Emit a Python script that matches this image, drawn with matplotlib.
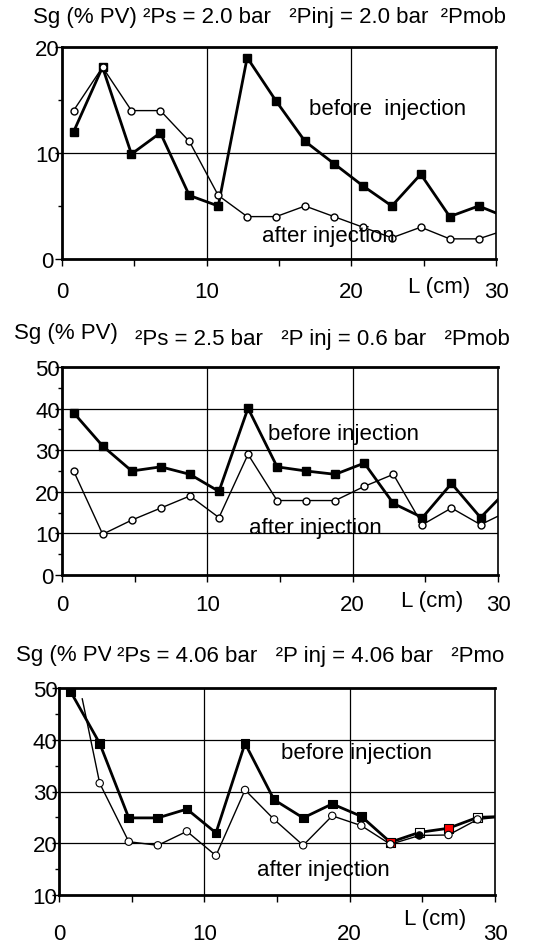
import numpy as np
import matplotlib.pyplot as plt
from matplotlib.ticker import MultipleLocator

plt.rcParams['font.family'] = ['Liberation Sans', 'DejaVu Sans']

# ============================================================
# DATA
# ============================================================
L = [0.8, 2.8, 4.8, 6.8, 8.8, 10.8, 12.8, 14.8, 16.8, 18.8, 20.8, 22.8, 24.8, 26.8, 28.8, 30.8]

# Panel 1: dPs = 2.0 bar, dPinj = 2.0 bar
sg1_before = [12.0, 18.1, 9.9, 11.9, 6.0, 5.0, 19.0, 14.9, 11.1, 9.0, 6.9, 5.0, 8.0, 4.0, 5.0, 3.9]
sg1_after = [14.0, 18.1, 14.0, 14.0, 11.1, 6.0, 4.0, 4.0, 5.0, 4.0, 3.0, 2.0, 3.0, 1.9, 1.9, 2.8]

# Panel 2: dPs = 2.5 bar, dPinj = 0.6 bar
sg2_before = [39.0, 31.0, 25.0, 26.0, 24.2, 20.1, 40.1, 26.0, 25.0, 24.2, 26.9, 17.2, 13.8, 22.0, 13.8, 21.0]
sg2_after = [25.0, 9.8, 13.2, 16.1, 19.0, 13.8, 29.0, 17.9, 17.9, 17.9, 21.3, 24.2, 12.1, 16.1, 12.1, 15.5]

# Panel 3: dPs = 4.06 bar, dPinj = 4.06 bar
sg3_before = [49.3, 39.3, 24.9, 24.9, 26.6, 22.0, 39.3, 28.4, 24.9, 27.6, 25.2, 20.2, 22.1, 22.9, 25.0, 25.2]
L3_after = [1.6, 2.8, 4.8, 6.8, 8.8, 10.8, 12.8, 14.8, 16.8, 18.8, 20.8, 22.8, 24.8, 26.8, 28.8, 30.8]
sg3_after = [47.9, 31.6, 20.3, 19.6, 22.3, 17.6, 30.3, 24.6, 19.6, 25.3, 23.4, 19.8, 21.5, 21.6, 24.6, 25.2]

titles = [
    ('Sg (% PV) \u00b2Ps = 2.0 bar   \u00b2Pinj = 2.0 bar  \u00b2Pmob', None),
    ('Sg (% PV)', '\u00b2Ps = 2.5 bar   \u00b2P inj = 0.6 bar   \u00b2Pmob'),
    ('Sg (% PV)', '\u00b2Ps = 4.06 bar   \u00b2P inj = 4.06 bar   \u00b2Pmo'),
]

FS = 16
W, H = 547, 945
fig = plt.figure(figsize=(W / 100, H / 100), dpi=100)


def fx(px):
    return px / W


def fy(py):
    return 1 - py / H


def make_axes(left, top, right, bottom):
    return fig.add_axes([fx(left), fy(bottom), fx(right - left), (bottom - top) / H])


def style_axes(ax, ylim, ymajor, yminor, hgrid, xlab_pad, ylab_pad):
    ax.set_xlim(0, 30)
    ax.set_ylim(*ylim)
    ax.xaxis.set_major_locator(MultipleLocator(10))
    ax.xaxis.set_minor_locator(MultipleLocator(5))
    ax.yaxis.set_major_locator(MultipleLocator(ymajor))
    ax.yaxis.set_minor_locator(MultipleLocator(yminor))
    for x in [10, 20]:
        ax.axvline(x, color='black', lw=0.9, zorder=1)
    for y in hgrid:
        ax.axhline(y, color='black', lw=0.9, zorder=1)
    for s in ['left', 'bottom', 'top']:
        ax.spines[s].set_linewidth(2.0)
    ax.spines['right'].set_linewidth(1.2)
    ax.tick_params(axis='both', which='both', direction='out', labelsize=FS,
                   width=1.0)
    ax.tick_params(axis='y', which='major', length=5, pad=ylab_pad)
    ax.tick_params(axis='y', which='minor', length=3)
    ax.tick_params(axis='x', which='both', length=5, pad=xlab_pad)
    ax.set_xticks([0, 10, 20, 30])
    ax.set_xticklabels(['0', '10', '20', '30'])
    for lab in ax.get_yticklabels():
        lab.set_horizontalalignment('center')


before_kw = dict(color='black', lw=2.0, marker='s', ms=6, mfc='black', mec='black',
                 zorder=3, clip_on=True)
after_kw = dict(color='black', lw=1.0, marker='o', ms=5, mfc='white', mec='black',
                zorder=4, clip_on=True)

# ---------------- Panel 1 ----------------
ax1 = make_axes(62, 48, 496, 260)
style_axes(ax1, (0, 20), 10, 5, [10], 10.5, 5.5)
ax1.plot(L, sg1_before, **before_kw)
ax1.plot(L, sg1_after, **after_kw)
ax1.text(17.1, 14.2, 'before  injection', fontsize=FS, va='center', zorder=2)
ax1.text(13.8, 2.2, 'after injection', fontsize=FS, va='center', zorder=5)
fig.text(fx(439), fy(287), 'L (cm)', fontsize=FS, ha='center', va='center')
fig.text(fx(33), fy(17), titles[0][0], fontsize=FS, va='center')

# ---------------- Panel 2 ----------------
ax2 = make_axes(62, 368, 498, 576)
style_axes(ax2, (0, 50), 10, 5, [10, 20, 30, 40], 9, 5.5)
ax2.plot(L, sg2_before, **before_kw)
ax2.plot(L, sg2_after, **after_kw)
ax2.text(14.2, 33.9, 'before injection', fontsize=FS, va='center', zorder=2)
ax2.text(12.9, 11.5, 'after injection', fontsize=FS, va='center', zorder=2)
fig.text(fx(432), fy(601), 'L (cm)', fontsize=FS, ha='center', va='center')
fig.text(fx(14), fy(333), titles[1][0], fontsize=FS, va='center')
fig.text(fx(135), fy(340), titles[1][1], fontsize=FS, va='center')

# ---------------- Panel 3 ----------------
ax3 = make_axes(59, 689, 495, 896)
style_axes(ax3, (10, 50), 10, 5, [20, 30, 40], 15, 5)
ax3.plot(L, sg3_before, color='black', lw=2.0, zorder=3)
before_fc = ['black'] * 11 + ['red', 'white', 'red', 'white', 'white']
ax3.scatter(L[:-1], sg3_before[:-1], marker='s', s=40, c=before_fc[:-1],
            edgecolors='black', linewidths=0.8, zorder=3)
ax3.plot(L3_after, sg3_after, color='black', lw=1.0, zorder=4)
after_fc = ['white'] * 11 + ['black', 'white', 'white', 'white']
ax3.scatter(L3_after[1:], sg3_after[1:], marker='o', s=28, c=after_fc,
            edgecolors='black', linewidths=0.8, zorder=4)
ax3.text(15.3, 37.6, 'before injection', fontsize=FS, va='center', zorder=2)
ax3.text(13.6, 15.0, 'after injection', fontsize=FS, va='center', zorder=2)
fig.text(fx(435), fy(920), 'L (cm)', fontsize=FS, ha='center', va='center')
fig.text(fx(16), fy(655), titles[2][0], fontsize=FS, va='center', zorder=1)
fig.text(fx(117), fy(657), titles[2][1], fontsize=FS, va='center', zorder=2,
         bbox=dict(facecolor='white', edgecolor='none', pad=4))

fig.savefig('out.png', dpi=100)
